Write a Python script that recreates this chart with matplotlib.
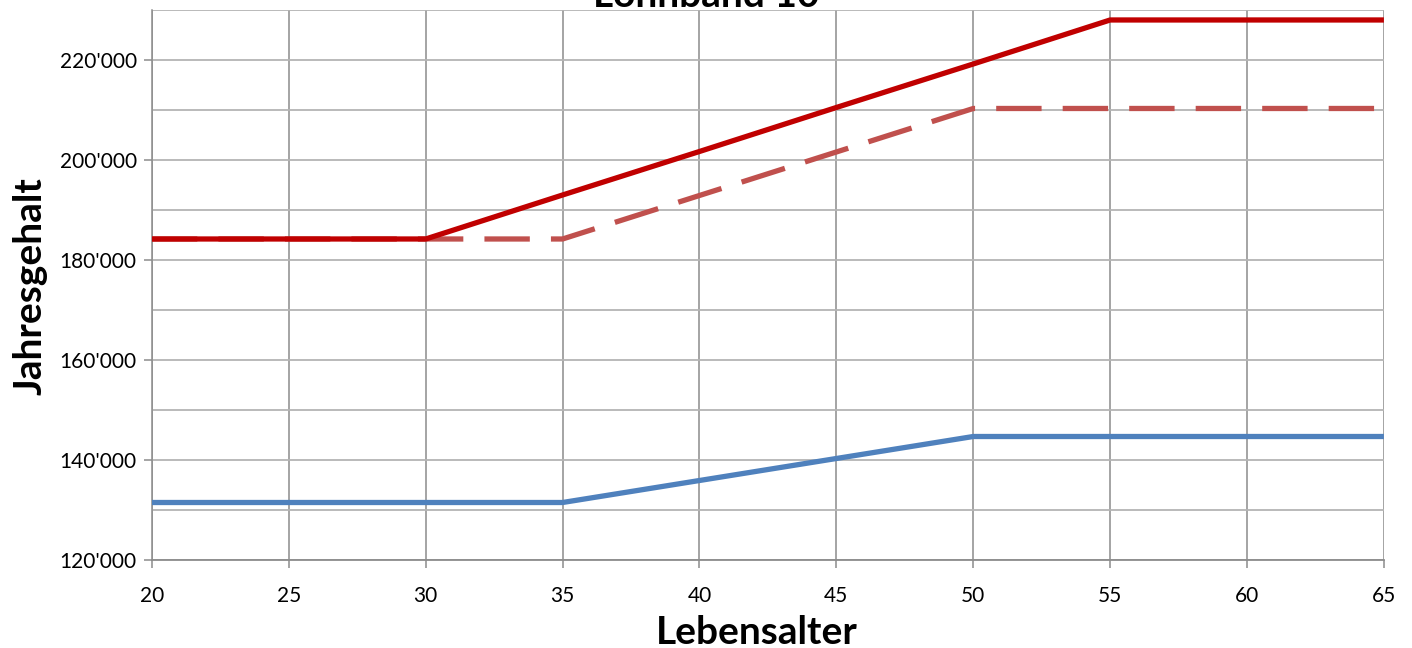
import numpy as np
import matplotlib
matplotlib.use("Agg")
import matplotlib.pyplot as plt
from matplotlib.ticker import MultipleLocator, FuncFormatter

plt.rcParams['font.family'] = ['Lato', 'DejaVu Sans']

# Lebensalter und Jahresgehalt
alter = np.array([20, 25, 30, 35, 40, 45, 50, 55, 60, 65])
gehalt_rot = np.array([184200, 184200, 184200, 193000, 201700, 210500, 219200, 228000, 228000, 228000])
gehalt_rot_gestrichelt = np.array([184200, 184200, 184200, 184200, 192900, 201600, 210300, 210300, 210300, 210300])
gehalt_blau = np.array([131500, 131500, 131500, 131500, 135900, 140300, 144700, 144700, 144700, 144700])

fig = plt.figure(figsize=(14.12, 6.48), dpi=100)
ax = fig.add_axes([0.1076, 0.1358, 0.8725, 0.8488])

ax.plot(alter, gehalt_blau, color='#4F81BD', lw=3.8, solid_capstyle='butt', zorder=3)
ax.plot(alter, gehalt_rot_gestrichelt, color='#C0504D', lw=3.8, linestyle=(0, (8.6, 4)), zorder=3)
ax.plot(alter, gehalt_rot, color='#C00000', lw=3.8, solid_capstyle='butt', zorder=4)

ax.set_xlim(20, 65)
ax.set_ylim(120000, 230000)
ax.xaxis.set_major_locator(MultipleLocator(5))
ax.yaxis.set_major_locator(MultipleLocator(20000))
ax.yaxis.set_minor_locator(MultipleLocator(10000))
ax.yaxis.set_major_formatter(FuncFormatter(lambda v, p: f"{int(v):,}".replace(',', "'")))

ax.grid(axis='x', which='major', color='#8c8c8c', lw=1.1)
ax.grid(axis='y', which='both', color='#b4b4b4', lw=1.3)
ax.set_axisbelow(True)

for s in ['top', 'right']:
    ax.spines[s].set_visible(False)
ax.spines['left'].set_color('#8c8c8c')
ax.spines['bottom'].set_color('#8c8c8c')
ax.spines['left'].set_linewidth(1.1)
ax.spines['bottom'].set_linewidth(1.3)

ax.tick_params(axis='both', which='major', labelsize=15, direction='out', length=6,
               color='#8c8c8c', width=1.1)
ax.tick_params(axis='y', which='minor', length=0)
ax.tick_params(axis='y', pad=5)
ax.tick_params(axis='x', pad=13)

fig.text(0.5, 0.989, 'Lohnband 10', fontsize=28, fontweight='bold', ha='center', va='baseline')
fig.text(0.536, 0.024, 'Lebensalter', fontsize=28, fontweight='bold', ha='center', va='center')
fig.text(0.021, 0.558, 'Jahresgehalt', fontsize=28, fontweight='bold', ha='center', va='center',
         rotation=90)

fig.savefig('out.png', dpi=100)
